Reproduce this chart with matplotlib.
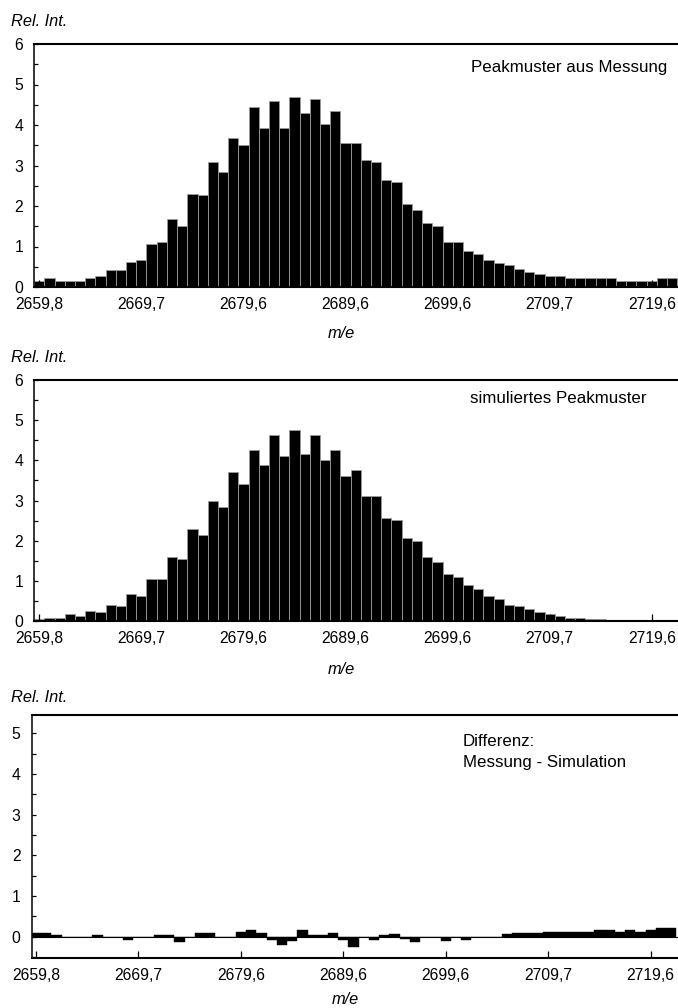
import matplotlib
matplotlib.use("Agg")
import matplotlib.pyplot as plt
from matplotlib.ticker import MultipleLocator

plt.rcParams['font.family'] = ['Liberation Sans', 'DejaVu Sans']

# ---- data -------------------------------------------------------------
tick_idx = [0, 10, 20, 30, 40, 50, 60]
tick_labels = ['2659,8', '2669,7', '2679,6', '2689,6', '2699,6', '2709,7', '2719,6']

measured = [0.16, 0.21, 0.15, 0.15, 0.15, 0.23, 0.28, 0.41, 0.41, 0.62,
            0.67, 1.07, 1.12, 1.67, 1.50, 2.29, 2.27, 3.08, 2.83, 3.69,
            3.51, 4.44, 3.92, 4.60, 3.92, 4.68, 4.30, 4.63, 4.02, 4.35,
            3.56, 3.56, 3.13, 3.08, 2.63, 2.60, 2.04, 1.89, 1.58, 1.50,
            1.12, 1.12, 0.88, 0.82, 0.67, 0.59, 0.54, 0.45, 0.36, 0.32,
            0.28, 0.28, 0.23, 0.23, 0.21, 0.23, 0.21, 0.16, 0.16, 0.16,
            0.16, 0.21, 0.21]

simulated = [0.05, 0.08, 0.08, 0.17, 0.12, 0.25, 0.22, 0.41, 0.37, 0.66,
             0.62, 1.05, 1.05, 1.59, 1.55, 2.28, 2.14, 3.00, 2.83, 3.71,
             3.41, 4.26, 3.88, 4.64, 4.12, 4.76, 4.17, 4.64, 4.00, 4.26,
             3.62, 3.75, 3.11, 3.11, 2.57, 2.52, 2.06, 1.98, 1.59, 1.47,
             1.18, 1.09, 0.90, 0.79, 0.62, 0.54, 0.41, 0.37, 0.29, 0.23,
             0.17, 0.12, 0.08, 0.08, 0.06, 0.06, 0.0, 0.0, 0.0, 0.0,
             0.0, 0.0, 0.0]

difference = [0.09, 0.09, 0.04, 0.0, 0.0, 0.0, 0.04, 0.0, 0.0, -0.07,
              0.0, 0.0, 0.04, 0.04, -0.12, 0.0, 0.09, 0.09, 0.0, 0.0,
              0.12, 0.17, 0.09, -0.08, -0.20, -0.11, 0.17, 0.05, 0.05, 0.09,
              -0.07, -0.25, 0.0, -0.07, 0.05, 0.08, -0.06, -0.12, 0.0, 0.0,
              -0.11, 0.0, -0.07, 0.0, 0.0, 0.0, 0.07, 0.09, 0.09, 0.09,
              0.11, 0.11, 0.12, 0.12, 0.12, 0.17, 0.17, 0.12, 0.16, 0.12,
              0.16, 0.21, 0.21]

titles = ['Peakmuster aus Messung', 'simuliertes Peakmuster',
          'Differenz:\nMessung - Simulation']

# ---- figure -----------------------------------------------------------
W, H = 678, 1008
fig = plt.figure(figsize=(W / 100, H / 100), dpi=100)


def px_axes(left, top, right, bottom):
    return fig.add_axes([left / W, 1 - bottom / H, (right - left) / W,
                         (bottom - top) / H])


FS_TICK = 11.3
FS_LAB = 11.8
FS_ANN = 12.2


def style(ax, ymax_tick):
    ax.spines['right'].set_visible(False)
    ax.spines['top'].set_linewidth(1.5)
    ax.spines['bottom'].set_linewidth(1.5)
    ax.spines['left'].set_linewidth(1.1)
    ax.set_xticks(tick_idx)
    ax.set_xticklabels(tick_labels)
    ax.set_yticks(range(0, ymax_tick + 1))
    ax.yaxis.set_minor_locator(MultipleLocator(0.5))
    ax.tick_params(axis='x', direction='in', length=4.8, width=0.9,
                   pad=7, labelsize=FS_TICK)
    ax.tick_params(axis='y', which='both', direction='in', length=3,
                   width=0.9, pad=8, labelsize=FS_TICK)
    ax.tick_params(top=False, right=False)


x = list(range(len(measured)))

ax1 = px_axes(34.3, 44, 678, 287)
ax1.bar(x, measured, width=1.0, color='black', edgecolor='#9a9a9a',
        linewidth=0.6)
ax1.set_xlim(-0.49, 62.57)
ax1.set_ylim(0, 6)
style(ax1, 6)

ax2 = px_axes(34.3, 380, 678, 621)
ax2.bar(x, simulated, width=1.0, color='black', edgecolor='#9a9a9a',
        linewidth=0.6)
ax2.set_xlim(-0.49, 62.57)
ax2.set_ylim(0, 6)
style(ax2, 6)

ax3 = px_axes(31.7, 715, 678, 958)
ax3.bar(x, difference, width=1.0, color='black', edgecolor='black',
        linewidth=0.3)
ax3.axhline(0, color='black', linewidth=0.8)
ax3.set_xlim(-0.42, 62.66)
ax3.set_ylim(-0.52, 5.45)
style(ax3, 5)


def ftext(xp, yp, s, fs, **kw):
    fig.text(xp / W, 1 - yp / H, s, fontsize=fs, **kw)


# axis labels
ftext(11, 22, 'Rel. Int.', FS_LAB, style='italic', va='center', ha='left')
ftext(11, 357, 'Rel. Int.', FS_LAB, style='italic', va='center', ha='left')
ftext(11, 697.5, 'Rel. Int.', FS_LAB, style='italic', va='center', ha='left')
ftext(341, 334, 'm/e', FS_LAB, style='italic', va='center', ha='center')
ftext(341, 670, 'm/e', FS_LAB, style='italic', va='center', ha='center')
ftext(345, 999, 'm/e', FS_LAB, style='italic', va='center', ha='center')

# panel annotations
ftext(667, 67.5, titles[0], FS_ANN, va='center', ha='right')
ftext(647, 398.5, titles[1], FS_ANN, va='center', ha='right')
ftext(463, 752, titles[2], FS_ANN, va='center', ha='left', linespacing=1.45)

fig.savefig('out.png', dpi=100)
